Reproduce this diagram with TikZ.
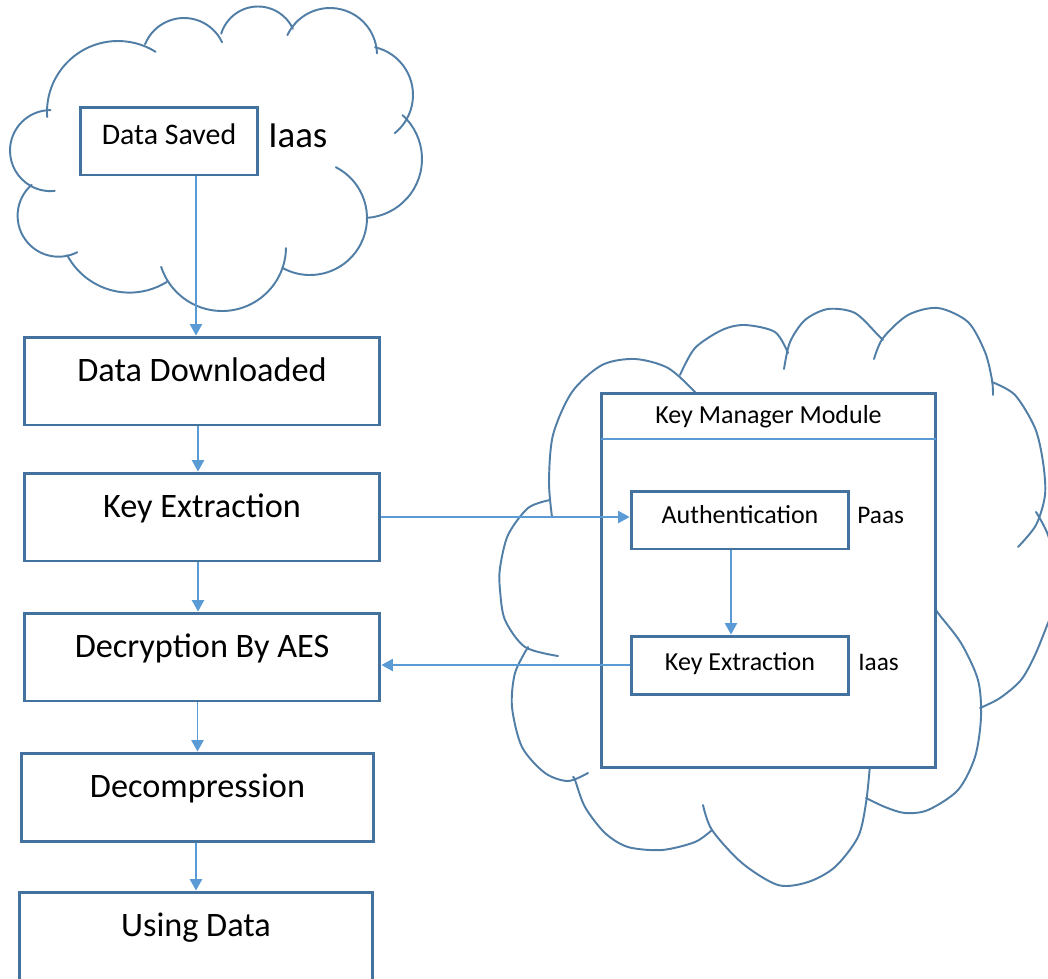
\documentclass[tikz,border=0pt]{standalone}
\usepackage{fontspec}
\setmainfont{Carlito}
\usetikzlibrary{arrows.meta}

\definecolor{boxcol}{RGB}{68,114,158}
\definecolor{cloudcol}{RGB}{80,126,166}
\definecolor{arrowcol}{RGB}{91,155,213}

\tikzset{
  cloudline/.style={draw=cloudcol, line width=1.1pt, line cap=round},
  stepbox/.style={draw=boxcol, line width=1.7pt, fill=white, inner sep=0pt},
  bigbox/.style={stepbox, minimum width=7.12cm, text height=0.88cm, text depth=0.88cm, font=\fontsize{19.5}{23}\selectfont},
  keybox/.style={stepbox, minimum width=4.36cm, font=\fontsize{14.8}{18}\selectfont},
  tag/.style={anchor=base west, inner sep=0pt, font=\fontsize{14.4}{17}\selectfont},
  flow/.style={draw=arrowcol, line width=0.8pt, -{Triangle[width=7pt,length=6.5pt]}},
}

% one puff of a cloud: centre x, centre y, radius, start angle, end angle
\newcommand{\puff}[5]{\draw[cloudline] (#1,#2) ++(#4:#3) arc[start angle=#4, end angle=#5, radius=#3];}

\begin{document}
\begin{tikzpicture}[x=0.02cm, y=-0.02cm]

	\fill[white] (0,0) rectangle (1048,978);
	\useasboundingbox (0,0) rectangle (1048,978);

	% cloud round the stored data
	\puff{118}{112}{71}{176}{302}
	\puff{184}{60}{42}{202}{335}
	\puff{258}{45}{38.5}{197}{335}
	\puff{330}{55}{47}{205}{358}
	\puff{364}{95}{49}{283}{411}
	\puff{363}{159}{59}{-48}{86}
	\puff{310}{218}{57}{-63}{119}
	\puff{222}{247}{64}{1}{162}
	\puff{129.5}{222}{70.6}{152}{58}
	\puff{58.6}{215.7}{41}{229}{63}
	\puff{50.5}{150.6}{40.5}{270}{84}

	% cloud round the key manager
	\draw[cloudline] plot[smooth] coordinates {(552,517) (549,482) (553,435) (572,392) (602,365) (635,359) (668,368) (695,392) (705,405)};
	\draw[cloudline] plot[smooth] coordinates {(680,375) (695,348) (722,330) (745,325) (775,332) (788,353)};
	\draw[cloudline] plot[smooth] coordinates {(784,369) (790,342) (805,320) (828,309) (855,313) (878,335) (883,340)};
	\draw[cloudline] plot[smooth] coordinates {(874,359) (883,338) (908,315) (938,308) (968,322) (985,352) (992,380) (993,395)};
	\draw[cloudline] plot[smooth] coordinates {(992,382) (1015,395) (1035,428) (1043,462) (1045,495) (1036,525) (1018,547)};
	\draw[cloudline] plot[smooth] coordinates {(1036,512) (1048,535) (1058,575) (1055,605) (1048,623) (1035,655) (1021,680) (1000,698) (980,708)};
	\draw[cloudline] plot[smooth] coordinates {(930,600) (938,613) (961,643) (978,680) (981,717) (975,757) (958,790) (928,810) (905,813) (885,807) (866,798)};
	\draw[cloudline] plot[smooth] coordinates {(870,765) (866,803) (858,837) (835,867) (808,882) (778,885) (742,863) (712,830) (703,805)};
	\draw[cloudline] plot[smooth] coordinates {(712,830) (695,842) (662,850) (628,847) (605,833) (585,807) (575,780) (573,777)};
	\draw[cloudline] plot[smooth] coordinates {(528,647) (515,673) (512,707) (522,747) (545,773) (568,781) (588,773)};
	\draw[cloudline] plot[smooth] coordinates {(550,500) (528,508) (508,535) (500,568) (500,590) (505,620) (525,647) (558,656)};

	% data path
	\node[stepbox, minimum width=3.56cm, text height=0.74cm, text depth=0.62cm, font=\fontsize{17}{20}\selectfont] (ds) at (169,141) {Data Saved};
	\node[tag, font=\fontsize{21}{25}\selectfont] (ds-tag) at (268,147) {Iaas};
	\node[bigbox] (dl) at (202,381) {Data Downloaded};
	\node[bigbox] (ke) at (202,517) {Key Extraction};
	\node[bigbox] (dec) at (202,657) {Decryption By AES};
	\node[bigbox, minimum width=7.06cm] (decomp) at (197.5,797) {Decompression};
	\node[bigbox, minimum width=7.08cm] (use) at (196,936) {Using Data};

	% key manager
	\node[stepbox, minimum width=6.7cm, minimum height=7.5cm] (kmm) at (768.5,580.5) {};
	\node[anchor=north, minimum width=6.7cm, inner sep=0pt, text height=0.64cm, text depth=0.3cm, font=\fontsize{14.8}{18}\selectfont] (kmm-title) at (kmm.north) {Key Manager Module};
	\draw[arrowcol, line width=0.9pt] (kmm-title.south west) -- (kmm-title.south east);
	\node[keybox, text height=0.64cm, text depth=0.52cm] (auth) at (740,520) {Authentication};
	\node[tag] (auth-tag) at (857,523) {Paas};
	\node[keybox, text height=0.68cm, text depth=0.48cm] (kex) at (740,665) {Key Extraction};
	\node[tag] (kex-tag) at (858,670) {Iaas};

	% arrows
	\draw[flow] ([xshift=0.54cm]ds.south) -- ([xshift=0.54cm]ds.south |- dl.north);
	\draw[flow] ([xshift=-0.08cm]dl.south) -- ([xshift=-0.08cm]ke.north);
	\draw[flow] ([xshift=-0.08cm]ke.south) -- ([xshift=-0.08cm]dec.north);
	\draw[flow] (dec.south -| decomp.north) -- (decomp.north);
	\draw[flow] (decomp.south -| use.north) -- (use.north);
	\draw[flow] (ke.east) -- (ke.east -| auth.west);
	\draw[flow] ([xshift=-0.18cm]auth.south) -- ([xshift=-0.18cm]kex.north);
	\draw[flow] (kex.west) -- (kex.west -| dec.east);

\end{tikzpicture}
\end{document}
